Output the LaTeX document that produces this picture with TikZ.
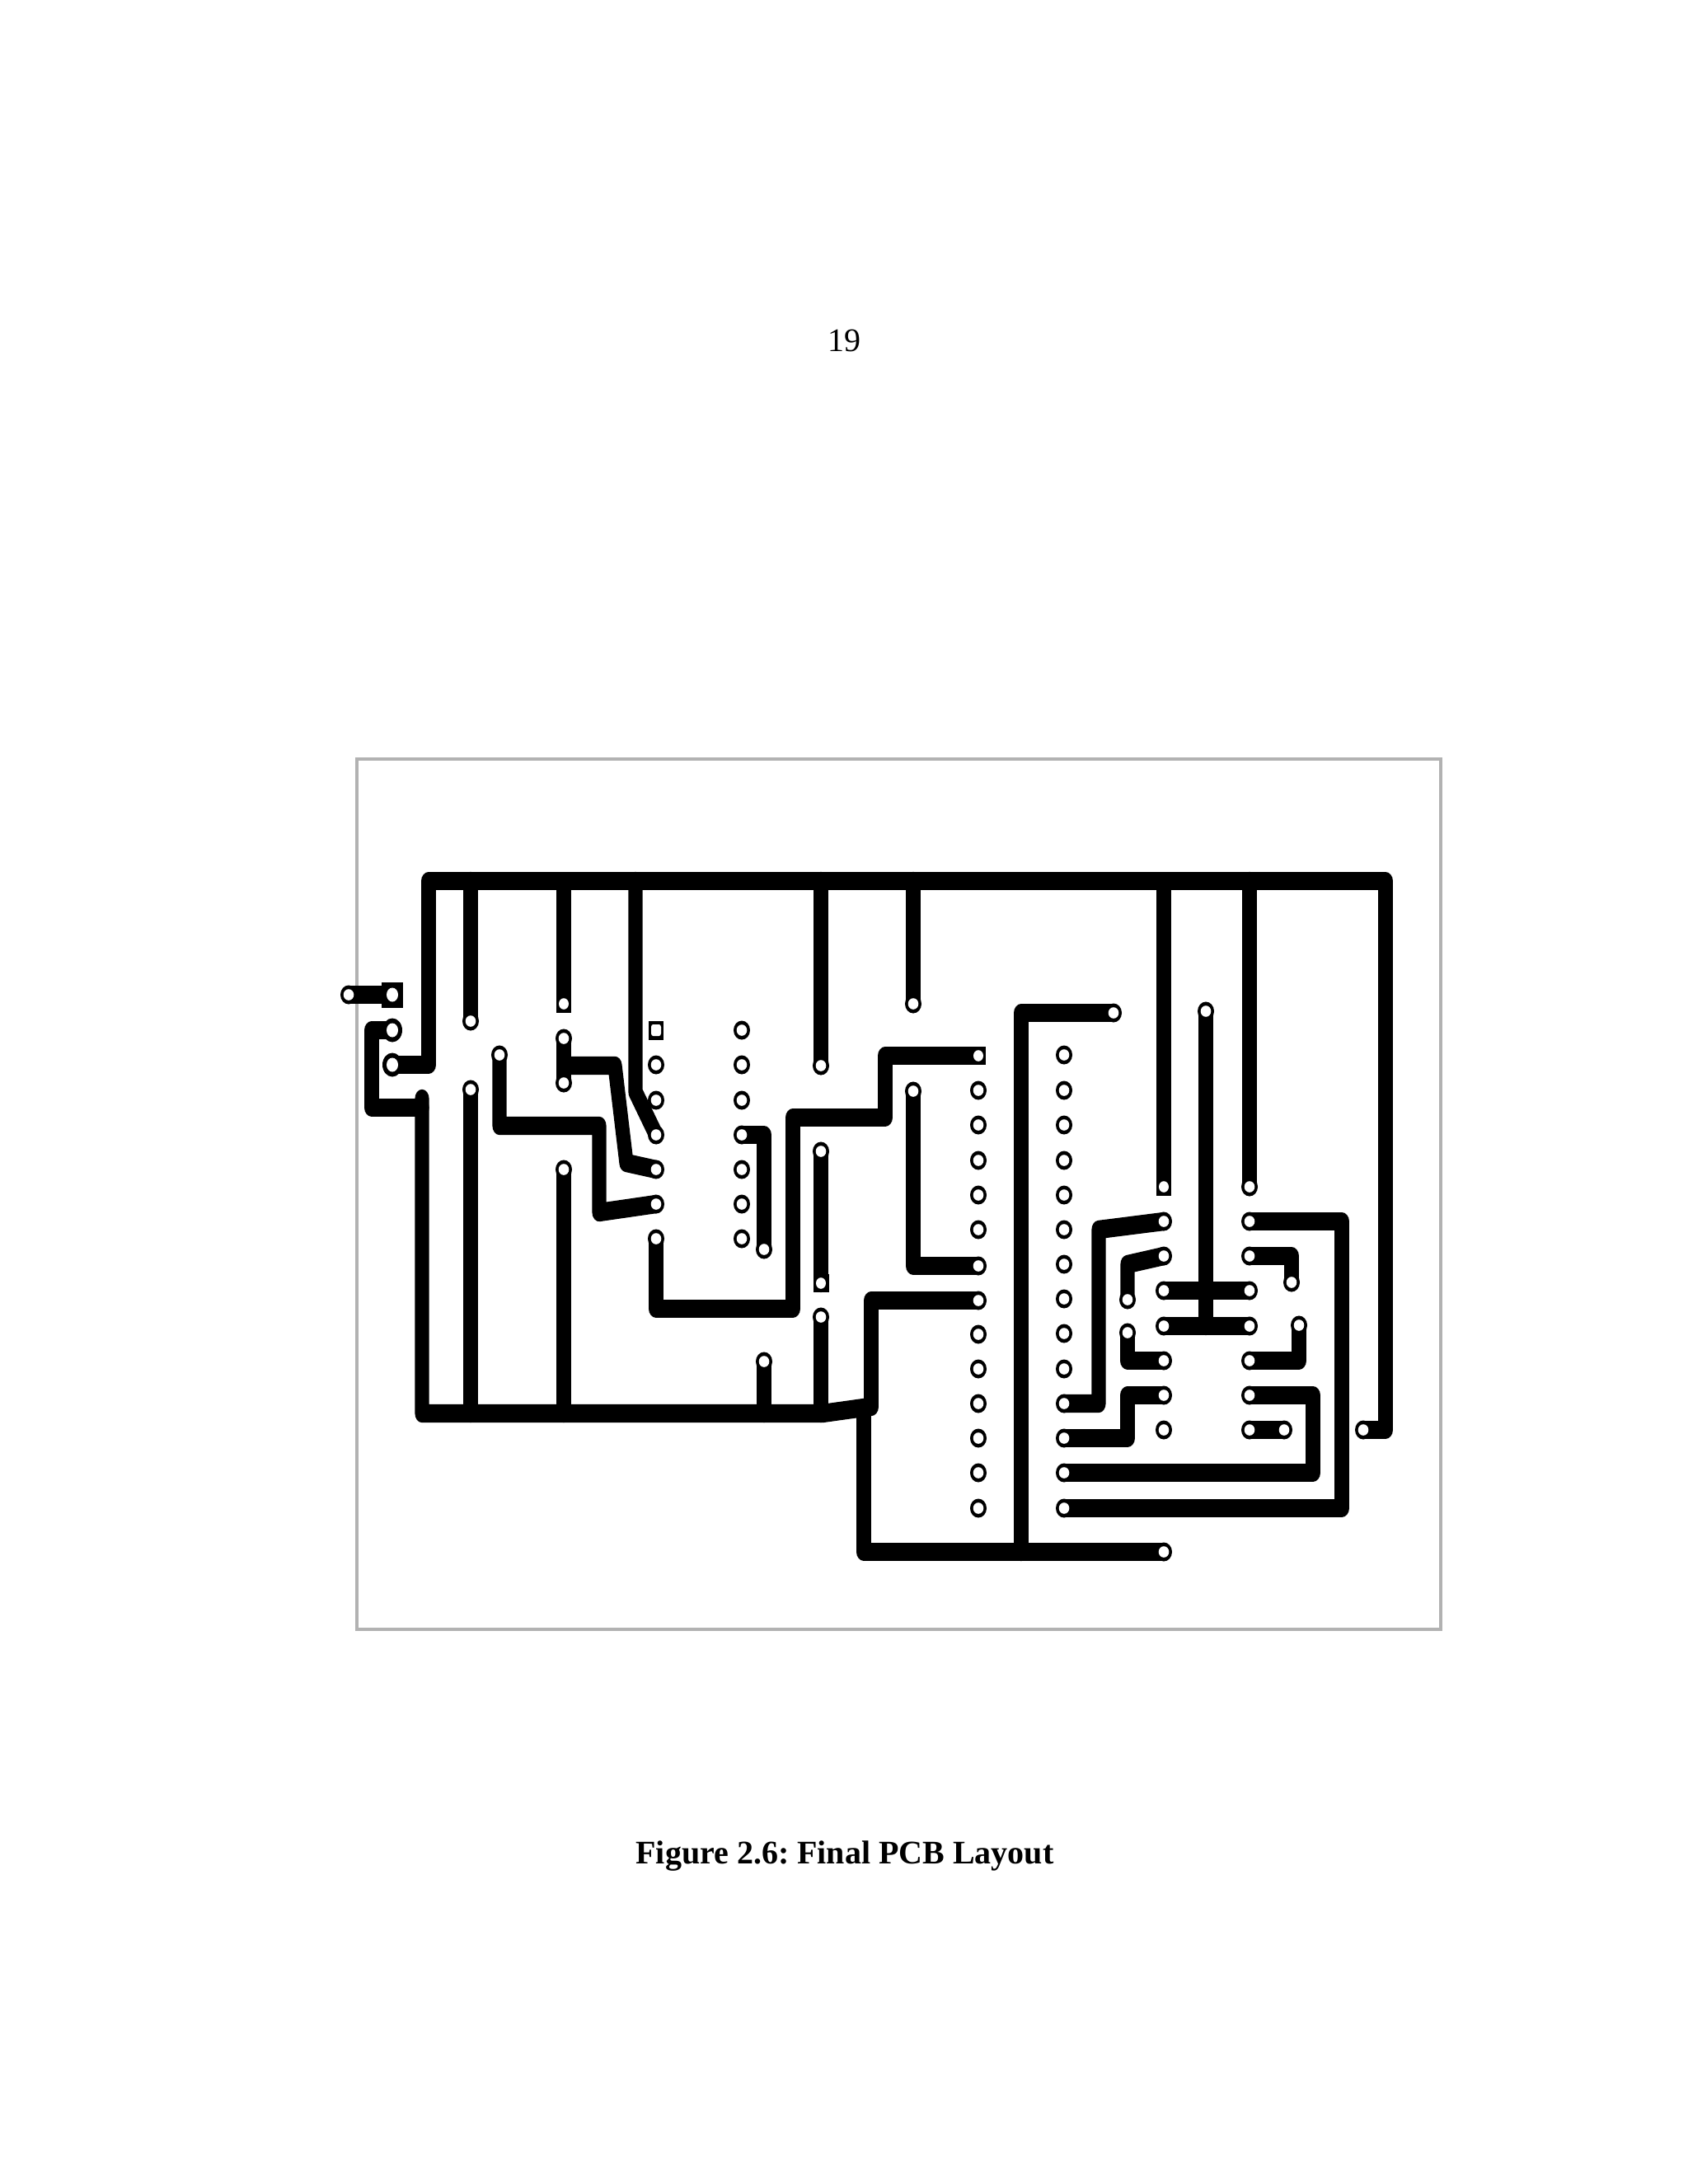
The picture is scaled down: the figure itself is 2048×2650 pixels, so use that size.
\documentclass[tikz,border=0pt]{standalone}
\usepackage{fontspec}
\setmainfont{Liberation Serif}
\definecolor{framegray}{RGB}{178,178,178}
\tikzset{
  trace/.style={draw=black,line width=8.6pt,line cap=round,line join=round},
  flat/.style={trace,line cap=butt},
  boardframe/.style={draw=framegray,line width=2.2pt},
  pagetext/.style={inner sep=0pt,anchor=base,font=\fontsize{20}{24}\selectfont\frenchspacing}
}
\newcommand\padlist{423/1207, 571/1239, 571/1322, 606/1280, 684/1260, 684/1314, 684/1419,
 796/1292, 796/1335, 796/1377, 796/1419, 796/1461, 796/1503,
 900/1250, 900/1292, 900/1335, 900/1377, 900/1419, 900/1461, 900/1503,
 927/1516, 927/1652, 996/1293, 996/1397, 996/1598, 1108/1218, 1108/1324, 1351/1229,
 1187/1323, 1187/1365, 1187/1408, 1187/1450, 1187/1492, 1187/1536, 1187/1578,
 1187/1619, 1187/1661, 1187/1703, 1187/1745, 1187/1787, 1187/1830,
 1291/1280, 1291/1323, 1291/1365, 1291/1408, 1291/1450, 1291/1492, 1291/1534,
 1291/1576, 1291/1618, 1291/1661, 1291/1703, 1291/1745, 1291/1787, 1291/1830,
 1412/1482, 1412/1524, 1412/1566, 1412/1609, 1412/1651, 1412/1693, 1412/1735, 1412/1883,
 1516/1440, 1516/1482, 1516/1524, 1516/1566, 1516/1609, 1516/1651, 1516/1693, 1516/1735,
 1463/1227, 1368/1577, 1368/1617, 1567/1556, 1576/1608, 1558/1735, 1654/1735}
\begin{document}
\begin{tikzpicture}[x=.5pt,y=-.5pt]
\useasboundingbox[fill=white] (0,0) rectangle (2048,2650);
\node[pagetext] (pagenum) at (1024,426) {19};
\node[pagetext,font=\fontsize{20}{24}\selectfont\bfseries\frenchspacing] (caption) at (1025,2261) {Figure 2.6: Final PCB Layout};
\draw[boardframe] (433,921) rectangle (1748,1977);
\begin{scope}[transform canvas={yscale=1.3},x=.5pt,y=-.384615pt]
% main rail and drops
\draw[trace] (476,1292) -- (520,1292) -- (520,1069) -- (1681,1069) -- (1681,1735) -- (1654,1735);
\draw[trace] (571,1069) -- (571,1239);
\draw[flat] (684,1069) -- (684,1225);
\draw[trace] (771,1069) -- (771,1325) -- (796,1377);
\draw[trace] (996,1069) -- (996,1293);
\draw[trace] (1108,1069) -- (1108,1218);
\draw[flat] (1412,1069) -- (1412,1448);
\draw[trace] (1516,1069) -- (1516,1440);
% connector block
\draw[trace] (423,1207) -- (476,1207);
\draw[trace] (476,1250) -- (451,1250) -- (451,1344) -- (512,1344);
\draw[trace] (512,1333) -- (512,1715) -- (998,1715) -- (1048,1708);
\draw[trace] (571,1322) -- (571,1715);
\draw[trace] (684,1419) -- (684,1715);
\draw[trace] (927,1652) -- (927,1715);
\draw[trace] (996,1598) -- (996,1715);
% left IC
\draw[trace] (684,1260) -- (684,1314);
\draw[trace] (684,1293) -- (746,1293) -- (760,1411) -- (796,1419);
\draw[trace] (606,1280) -- (606,1366) -- (727,1366) -- (727,1471) -- (796,1461);
\draw[trace] (900,1377) -- (927,1377) -- (927,1516);
\draw[trace] (796,1503) -- (796,1588) -- (962,1588) -- (962,1356) -- (1074,1356) -- (1074,1281) -- (1187,1281);
\draw[trace] (996,1397) -- (996,1557);
\draw[trace] (1108,1324) -- (1108,1536) -- (1187,1536);
% bottom bus
\draw[trace] (1187,1578) -- (1057,1578) -- (1057,1707);
\draw[trace] (1048,1708) -- (1048,1883) -- (1412,1883);
\draw[trace] (1351,1229) -- (1239,1229) -- (1239,1883);
% right IC
\draw[trace] (1463,1227) -- (1463,1609);
\draw[trace] (1412,1566) -- (1516,1566);
\draw[trace] (1412,1609) -- (1516,1609);
\draw[trace] (1291,1703) -- (1333,1703) -- (1333,1492) -- (1412,1482);
\draw[trace] (1291,1745) -- (1368,1745) -- (1368,1693) -- (1412,1693);
\draw[trace] (1368,1577) -- (1368,1534) -- (1412,1524);
\draw[trace] (1368,1617) -- (1368,1651) -- (1412,1651);
\draw[trace] (1516,1482) -- (1628,1482) -- (1628,1830) -- (1291,1830);
\draw[trace] (1516,1524) -- (1567,1524) -- (1567,1556);
\draw[trace] (1576,1608) -- (1576,1651) -- (1516,1651);
\draw[trace] (1516,1693) -- (1593,1693) -- (1593,1787) -- (1291,1787);
\draw[trace] (1516,1735) -- (1558,1735);
% ordinary pads
\foreach \a/\b in \padlist {
  \fill[black] (\a,\b) ellipse [x radius=10,y radius=11.5];
  \fill[white] (\a,\b) ellipse [x radius=6.3,y radius=6.8];
}
% large connector pads
\foreach \a/\b in {476/1250, 476/1292} {
  \fill[black] (\a,\b) ellipse [x radius=12,y radius=14.5];
  \fill[white] (\a,\b) ellipse [x radius=7,y radius=8.5];
}
% square pads
\foreach \a/\b/\w/\h in {476/1207/13/15.5, 796/1250/9/11.5, 684/1218/9/11, 996/1557/9.5/11, 1187/1281/9/11, 1412/1440/9/11} {
  \fill[black] (\a-\w,\b-\h) rectangle (\a+\w,\b+\h);
}
\foreach \a/\b/\r/\s in {476/1207/7/8.5, 684/1218/6/6.8, 996/1557/6/6.8, 1187/1281/6/6.8, 1412/1440/6/6.8} {
  \fill[white] (\a,\b) ellipse [x radius=\r,y radius=\s];
}
\fill[white,rounded corners=1.2pt] (790,1243) rectangle (802,1257);
\end{scope}
\end{tikzpicture}
\end{document}
